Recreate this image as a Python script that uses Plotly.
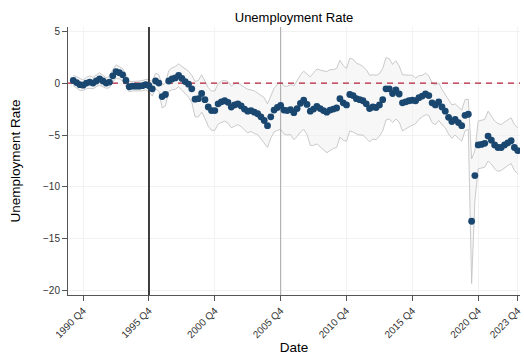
import plotly.graph_objects as go

# Quarterly labels, 1990 Q1 .. 2023 Q4
years = list(range(1990, 2024))
quarters = [f"{y} Q{q}" for y in years for q in (1, 2, 3, 4)]

# Point estimates (percentage points)
estimate = [
    0.25, 0.05, -0.15, -0.2, 0.0, 0.1, 0.0, 0.2, 0.4, 0.2, 0.0, 0.1,
    0.7, 1.1, 1.0, 0.8, 0.25,
    -0.35, -0.3, -0.3, -0.3, -0.25, -0.15,
    -0.25, -0.55, 0.2, 0.0,
    -1.3, -1.1,
    0.2, 0.4, 0.5, 0.75, 0.45, 0.15, -0.1, -0.55,
    -1.55, -1.5, -1.0, -1.6, -2.3, -2.65, -2.65, -2.0,
    -1.8, -1.7, -1.85, -2.3, -2.1, -2.0, -2.2, -2.5, -2.7, -2.65, -2.8, -2.95,
    -3.25, -3.6, -4.1, -3.25, -2.6, -2.35,
    -2.15, -2.6, -2.65, -2.55,
    -2.85, -2.45, -1.95, -1.65, -2.05,
    -2.7, -2.5, -2.25, -2.45, -2.65, -2.8, -2.6, -2.5, -2.4, -1.5, -1.9, -2.1,
    -1.1, -1.2, -1.5, -1.6, -1.7, -2.0,
    -2.45, -2.3, -2.35, -2.1, -1.6, -0.55, -0.55,
    -1.0, -0.65, -1.05, -1.9, -1.8, -1.7, -1.65,
    -1.7, -1.4, -1.25, -1.05, -1.2, -1.9, -2.1, -1.8,
    -2.3, -2.7, -3.3, -3.7, -3.5, -3.8, -4.1, -3.1, -3.0,
    -13.3,
    -8.9,
    -5.95, -5.9, -5.8, -5.1, -5.5, -5.95, -6.2, -6.2, -5.95, -5.75, -5.55, -6.2, -6.5,
]

# Half-width of the confidence interval
ci_half = [
    0.5, 0.55, 0.55, 0.5, 0.55, 0.6, 0.55, 0.55, 0.6, 0.55, 0.5, 0.55,
    0.6, 0.65, 0.6, 0.6, 0.55,
    0.5, 0.45, 0.45, 0.5, 0.5, 0.5,
    0.6, 0.7, 0.75, 0.8,
    1.1, 1.1,
    1.0, 1.05, 1.1, 1.1, 1.15, 1.2, 1.25, 1.3,
    1.7, 1.75, 1.8, 1.8, 1.85, 1.9, 1.9, 1.95,
    2.0, 1.95, 2.0, 2.0, 2.05, 2.0, 2.0, 2.05, 2.1, 2.0, 2.05, 2.0,
    2.1, 2.2, 2.1, 2.05, 2.1, 2.2,
    2.3, 2.3, 2.35, 2.4,
    2.6, 2.7, 2.75, 2.8, 2.9,
    3.3, 3.5, 3.6, 3.7, 3.8, 3.9, 3.9, 3.8, 3.8, 3.7, 3.6, 3.5,
    3.5, 3.5, 3.4, 3.4, 3.3, 3.3,
    3.2, 3.1, 3.1, 3.0, 3.0, 3.0, 2.9,
    2.8, 2.8, 2.7, 2.7, 2.6, 2.5, 2.4,
    2.2, 2.1, 2.0, 2.0, 1.9, 1.9, 1.9, 1.8,
    1.7, 1.6, 1.6, 1.6, 1.5, 1.5, 1.5, 1.5, 1.45,
    6.0,
    2.4,
    2.3, 2.3, 2.3, 2.4, 2.3, 2.3, 2.3, 2.2, 2.2, 2.2, 2.2, 2.2, 2.2,
]

tick_labels = ["1990 Q4", "1995 Q4", "2000 Q4", "2005 Q4", "2010 Q4",
               "2015 Q4", "2020 Q4", "2023 Q4"]
y_ticks = [5, 0, -5, -10, -15, -20]

treatment_quarter = "1995 Q4"
secondary_quarter = "2005 Q4"
baseline = 0

x = list(range(len(quarters)))
upper = [e + h for e, h in zip(estimate, ci_half)]
lower = [e - h for e, h in zip(estimate, ci_half)]
tick_pos = [quarters.index(q) for q in tick_labels]

y_range = [-20.4, 5.4]
x_range = [-1.6, 135.7]

fig = go.Figure()

# Confidence band
fig.add_trace(go.Scatter(x=x, y=upper, mode="lines",
                         line=dict(color="#c4c4c4", width=0.9),
                         hoverinfo="skip", showlegend=False))
fig.add_trace(go.Scatter(x=x, y=lower, mode="lines", fill="tonexty",
                         fillcolor="rgba(240,240,240,0.55)",
                         line=dict(color="#c4c4c4", width=0.9),
                         hoverinfo="skip", showlegend=False))

# Reference lines
t_main = quarters.index(treatment_quarter)
t_sec = quarters.index(secondary_quarter)
fig.add_trace(go.Scatter(x=[t_sec, t_sec], y=y_range, mode="lines",
                         line=dict(color="#a8a8a8", width=1),
                         hoverinfo="skip", showlegend=False))
fig.add_trace(go.Scatter(x=[t_main, t_main], y=y_range, mode="lines",
                         line=dict(color="#2b2b2b", width=1.8),
                         hoverinfo="skip", showlegend=False))
fig.add_trace(go.Scatter(x=x_range, y=[baseline, baseline], mode="lines",
                         line=dict(color="#b5223a", width=1.3, dash="6px,5px"),
                         hoverinfo="skip", showlegend=False))

# Point estimates
fig.add_trace(go.Scatter(x=x, y=estimate, mode="markers",
                         marker=dict(color="#1a476f", size=6.8),
                         hovertext=quarters, showlegend=False))

axis_font = dict(family="Liberation Sans, Arial, sans-serif", size=10, color="#333333")

fig.update_layout(
    width=524, height=356,
    margin=dict(l=68, r=1, t=27, b=61),
    paper_bgcolor="white", plot_bgcolor="white",
    font=dict(family="Liberation Sans, Arial, sans-serif", color="black"),
    title=dict(text="Unemployment Rate", x=0.5, xref="paper", xanchor="center",
               y=1 - 17 / 356, yanchor="middle", yref="container",
               font=dict(size=13, color="black")),
    xaxis=dict(range=x_range, tickmode="array", tickvals=tick_pos,
               ticktext=tick_labels, tickangle=-45, tickfont=axis_font,
               ticklabeloverflow="allow",
               ticks="outside", ticklen=5, tickcolor="#555555",
               showline=True, linecolor="#555555", linewidth=1,
               showgrid=True, gridcolor="#f2f2f2", gridwidth=1,
               zeroline=False,
               title=dict(text="Date", font=dict(size=13.5), standoff=2)),
    yaxis=dict(range=y_range, tickmode="array", tickvals=y_ticks,
               tickfont=axis_font, ticks="outside", ticklen=5,
               tickcolor="#555555", showline=True, linecolor="#555555",
               linewidth=1, showgrid=True, gridcolor="#f2f2f2", gridwidth=1,
               zeroline=False,
               title=dict(text="Unemployment Rate", font=dict(size=13.5),
                          standoff=19)),
)

fig.write_html("out.html")
